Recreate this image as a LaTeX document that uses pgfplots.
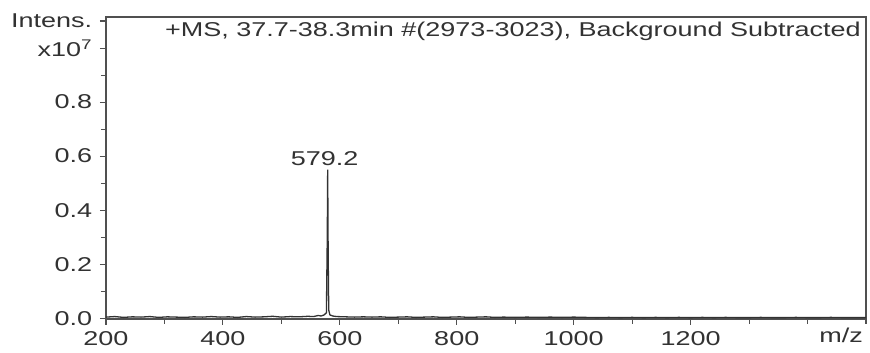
\documentclass[border=0pt]{standalone}
\usepackage{fontspec}
\setmainfont{Liberation Sans}[FakeStretch=1.35]
\usepackage{pgfplots}
\pgfplotsset{compat=1.18}
\definecolor{ink}{RGB}{50,50,50}
\definecolor{frame}{RGB}{80,80,80}
\begin{document}
\fontsize{20}{23}\selectfont
\begin{tikzpicture}
\begin{axis}[
  name=ax,
  scale only axis,
  width=760pt, height=302pt,
  xmin=200, xmax=1500, ymin=-0.003, ymax=1.115,
  axis line style={frame, line width=1.2pt},
  tick align=outside,
  xtick pos=bottom, ytick pos=left,
  xtick={200,400,600,800,1000,1200},
  minor xtick={300,500,700,900,1100,1300,1400,1500},
  ytick={0,0.2,0.4,0.6,0.8,1.0,1.1},
  yticklabels={0.0,0.2,0.4,0.6,0.8,x10\textsuperscript{7},Intens.},
  minor ytick={0.1,0.3,0.5,0.7,0.9},
  major tick length=6pt, minor tick length=5pt,
  tick style={frame, line width=1.1pt},
  every tick label/.append style={text=ink, font=\fontsize{20}{23}\selectfont},
  /pgf/number format/assume math mode=true,
  xticklabel={\pgfmathprintnumber[1000 sep={},assume math mode=true]{\tick}},
  yticklabel style={xshift=-1pt},
  clip=false,
]
\addplot[ink, line width=1.3pt] coordinates {
(200,0.004)(215,0.006)(230,0.003)(245,0.005)(260,0.004)(275,0.006)(290,0.003)
(305,0.005)(320,0.004)(335,0.003)(350,0.005)(365,0.004)(380,0.006)(395,0.004)
(410,0.005)(425,0.003)(440,0.006)(455,0.004)(470,0.005)(485,0.007)(500,0.004)
(515,0.006)(530,0.005)(545,0.007)(555,0.006)(563,0.010)(568,0.008)(573,0.012)
(577,0.020)(578.5,0.30)(579.2,0.55)(580,0.25)(581,0.030)(583,0.012)(588,0.008)
(595,0.006)(610,0.005)(625,0.004)(640,0.005)(655,0.004)(670,0.005)(685,0.003)
(700,0.004)(715,0.005)(730,0.003)(745,0.004)(760,0.005)(775,0.003)(790,0.004)
(805,0.005)(820,0.003)(835,0.004)(850,0.005)(865,0.003)(880,0.004)(900,0.003)
(920,0.004)(940,0.003)(960,0.004)(980,0.003)(1000,0.004)(1020,0.003)(1040,0.002)
(1060,0.003)(1080,0.002)(1100,0.003)(1120,0.002)(1140,0.003)(1160,0.002)
(1180,0.003)(1200,0.002)(1220,0.003)(1240,0.002)(1260,0.003)(1280,0.002)
(1300,0.002)(1320,0.003)(1340,0.002)(1360,0.002)(1380,0.003)(1400,0.002)
(1420,0.002)(1440,0.003)(1460,0.002)(1480,0.002)(1500,0.002)
};
\node[text=ink, anchor=south, inner sep=1pt, xshift=-3pt, yshift=3pt] at (axis cs:579.2,0.55) {579.2};
\node[text=ink, anchor=north east, inner sep=0pt, xshift=-5pt, yshift=-5pt] at (rel axis cs:1,1) {+MS, 37.7-38.3min \#(2973-3023), Background Subtracted};
\end{axis}
\node[text=ink, anchor=north east, inner sep=0pt] at ([xshift=-3pt,yshift=-9pt]ax.south east) {m/z};
\pgfresetboundingbox
\path[use as bounding box] ([xshift=-106pt,yshift=-34pt]ax.south west) rectangle ([xshift=4pt,yshift=17pt]ax.north east);
\end{tikzpicture}
\end{document}
